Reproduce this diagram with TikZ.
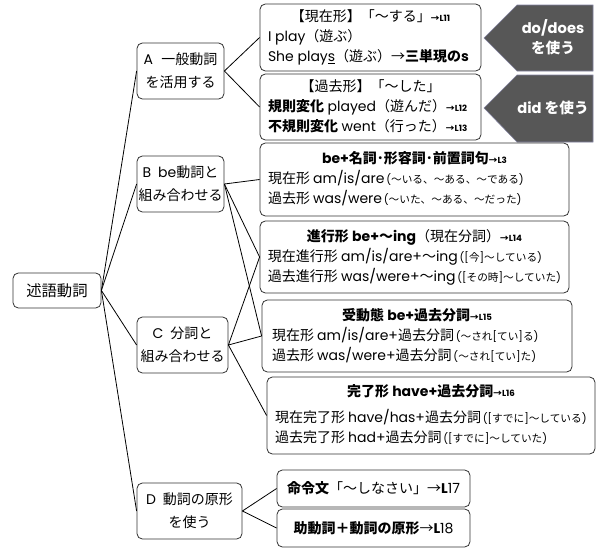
\documentclass[tikz,border=0pt]{standalone}
\usepackage{fontspec}
\setmainfont{Poppins}
\newfontfamily\enfont{Poppins}
\newfontfamily\jpfont{Noto Sans CJK JP}
\usepackage{tikz}

% Japanese runs in Noto, the rest in Poppins
\newcount\cjkchar
\newcommand{\cjkrange}[2]{\cjkchar=#1 \loop\XeTeXcharclass\cjkchar=1 \ifnum\cjkchar<#2 \advance\cjkchar by 1 \repeat}
\cjkrange{"2190}{"21FF}
\cjkrange{"3000}{"30FF}
\cjkrange{"4E00}{"9FFF}
\cjkrange{"FF00}{"FFEF}
\XeTeXinterchartokenstate=1
\XeTeXinterchartoks 0 1 = {\jpfont}
\XeTeXinterchartoks 4095 1 = {\jpfont}
\XeTeXinterchartoks 1 0 = {\enfont}
\XeTeXinterchartoks 4095 0 = {\enfont}

\newcommand{\lref}[1]{{\fontsize{6.5}{8}\selectfont\bfseries →L#1}}
\newcommand{\paren}[1]{{\fontsize{8}{10}\selectfont\,(#1)}}
\newcommand{\entry}[3]{\begin{tabular}{@{}l@{}}\makebox[#1]{#2}\\#3\end{tabular}}

\begin{document}
\begin{tikzpicture}[x=0.75pt,y=-0.75pt,
        box/.style={draw=black!80, line width=0.6pt, rounded corners=4pt, inner sep=0pt,
            font=\fontsize{10.5}{15}\selectfont},
        boxsize/.style 2 args={minimum width=#1*0.75pt, minimum height=#2*0.75pt},
        group/.style={box, align=center, font=\fontsize{10.5}{17}\selectfont},
        link/.style={line width=0.6pt},
        usefill/.style={fill=black!66, draw=blue!25!black!50, line width=0.4pt},
        usetext/.style={text=white, align=center, font=\fontsize{11}{15}\selectfont\bfseries}]
        \useasboundingbox (0,0) rectangle (606,554);

        % root and groups
        \node[box, boxsize={88}{35}, font=\fontsize{11.5}{15}\selectfont] (root) at (57,290.5) {述語動詞};

        \node[group, boxsize={87}{56}] (A) at (180.5,71) {A\hspace{0.6em}一般動詞\\を活用する};
        \node[group, boxsize={87}{56}] (B) at (180.5,184) {B\hspace{0.5em}be動詞と\\組み合わせる};
        \node[group, boxsize={91}{56}] (C) at (182.5,345) {C\hspace{0.5em}分詞と\\組み合わせる};
        \node[group, boxsize={105}{56}] (D) at (189.5,511) {D\hspace{0.5em}動詞の原形\\を使う};

        % A
        \node[box, boxsize={221}{67}] (pres) at (370.5,37.5) {\entry{153.75pt}{【現在形】「～する」\lref{11}}{%
            I play（遊ぶ）\\
            She play\underline{s}（遊ぶ）→\textbf{三単現のs}}};
        \node[box, boxsize={221}{66}] (past) at (370.5,107) {\entry{153.75pt}{【過去形】「～した」}{%
            \textbf{規則変化} played（遊んだ）\lref{12}\\
            \textbf{不規則変化} went（行った）\lref{13}}};

        \fill[usefill] (484,38) -- (517,5) -- (593,5) -- (593,71) -- (517,71) -- cycle;
        \node[usetext] (does) at (553,37) {do/does\\を使う};
        \fill[usefill] (484,108) -- (517,75) -- (593,75) -- (593,142) -- (517,142) -- cycle;
        \node[usetext] (did) at (553,108) {did を使う};

        % B and C
        \node[box, boxsize={309}{73}] (be) at (414.5,179.5) {\entry{219.75pt}{\textbf{be+名詞･形容詞･前置詞句}\lref{3}}{%
            現在形 am/is/are\paren{～いる、～ある、～である}\\
            過去形 was/were\paren{～いた、～ある、～だった}}};
        \node[box, boxsize={309}{72}] (prog) at (414.5,257) {\entry{219.75pt}{\textbf{進行形 be+～ing}（現在分詞）\lref{14}}{%
            現在進行形 am/is/are+～ing\paren{[今]～している}\\
            過去進行形 was/were+～ing\paren{[その時]～していた}}};
        \node[box, boxsize={310}{72}] (pass) at (417,336) {\entry{217.5pt}{\textbf{受動態 be+過去分詞}\lref{15}}{%
            現在形 am/is/are+過去分詞\paren{～され[てい]る}\\
            過去形 was/were+過去分詞\paren{～され[てい]た}}};
        \node[box, boxsize={328}{77}] (perf) at (431,415.5) {\entry{234pt}{\textbf{完了形 have+過去分詞}\lref{16}\rule[-9pt]{0pt}{9pt}}{%
            現在完了形 have/has+過去分詞\paren{[すでに]～している}\\
            過去完了形 had+過去分詞\paren{[すでに]～していた}}};

        % D
        \node[box, boxsize={193}{37}] (imp) at (373.5,488.5) {\textbf{命令文}「～しなさい」→{\bfseries L}17};
        \node[box, boxsize={193}{38}] (aux) at (373.5,528) {\textbf{助動詞＋動詞の原形}→{\bfseries L}18};

        \draw[link] (root.east) -- (A.west);
        \draw[link] (root.east) -- (B.west);
        \draw[link] (root.east) -- (C.west);
        \draw[link] (root.east) -- (D.west);

        \draw[link] (A.east) -- (pres.west);
        \draw[link] (A.east) -- (past.west);

        \draw[link] (B.east) -- (be.west);
        \draw[link] (B.east) -- (prog.west);
        \draw[link] (B.east) -- (pass.west);

        \draw[link] (C.east) -- (prog.west);
        \draw[link] (C.east) -- (pass.west);
        \draw[link] (C.east) -- (perf.west);

        \draw[link] (D.east) -- (imp.west);
        \draw[link] (D.east) -- (aux.west);
    \end{tikzpicture}
\end{document}
